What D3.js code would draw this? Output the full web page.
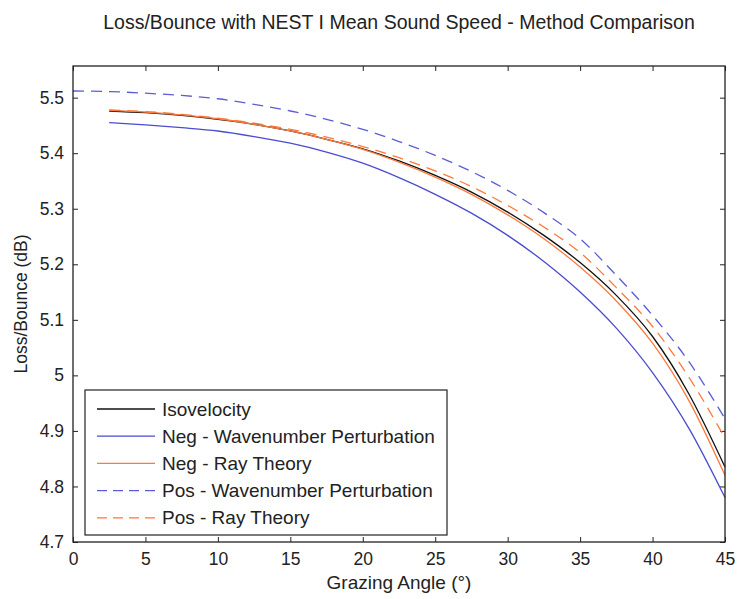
<!DOCTYPE html>
<html>
<head>
<meta charset="utf-8">
<script src="https://cdn.jsdelivr.net/npm/d3@7"></script>
<style>
  body { margin: 0; background: #fff; }
  text { font-family: "Liberation Sans", Arial, sans-serif; fill: #222; }
</style>
</head>
<body>
<svg id="chart"></svg>
<script>
const width = 737;
const height = 599;

// grazing angles (deg)
const angles = [2.5, 5, 7.5, 10, 12.5, 15, 17.5, 20, 22.5, 25, 27.5, 30, 32.5, 35, 37.5, 40, 42.5, 45];
const anglesPos = [0].concat(angles);

// loss per bounce (dB)
const isovelocity = [5.476, 5.473, 5.468, 5.461, 5.452, 5.440, 5.425, 5.408, 5.386, 5.360, 5.330, 5.294, 5.252, 5.203, 5.144, 5.070, 4.967, 4.835];
const negWavenumber = [5.455, 5.451, 5.446, 5.440, 5.430, 5.418, 5.402, 5.382, 5.356, 5.326, 5.292, 5.252, 5.205, 5.150, 5.085, 5.005, 4.905, 4.780];
const negRay = [5.477, 5.474, 5.469, 5.462, 5.452, 5.440, 5.425, 5.407, 5.384, 5.357, 5.326, 5.289, 5.246, 5.195, 5.134, 5.058, 4.955, 4.820];
const posWavenumber = [5.512, 5.511, 5.508, 5.504, 5.498, 5.488, 5.476, 5.461, 5.443, 5.421, 5.396, 5.367, 5.333, 5.293, 5.246, 5.180, 5.108, 5.025, 4.922];
const posRay = [5.478, 5.475, 5.470, 5.463, 5.454, 5.443, 5.429, 5.412, 5.392, 5.368, 5.340, 5.306, 5.267, 5.221, 5.158, 5.088, 4.997, 4.887];

const xTicks = [0, 5, 10, 15, 20, 25, 30, 35, 40, 45];
const yTicks = [4.7, 4.8, 4.9, 5, 5.1, 5.2, 5.3, 5.4, 5.5];

const series = [
  { name: "Isovelocity", x: angles, y: isovelocity, color: "#111", dash: null },
  { name: "Neg - Wavenumber Perturbation", x: angles, y: negWavenumber, color: "#4b4bd0", dash: null },
  { name: "Neg - Ray Theory", x: angles, y: negRay, color: "#ff7a3c", dash: null },
  { name: "Pos - Wavenumber Perturbation", x: anglesPos, y: posWavenumber, color: "#5c5cd8", dash: "11,7" },
  { name: "Pos - Ray Theory", x: angles, y: posRay, color: "#ff7a3c", dash: "11,7" }
];

const margin = { top: 66, right: 12, bottom: 57, left: 73 };
const innerW = width - margin.left - margin.right;
const innerH = height - margin.top - margin.bottom;

const svg = d3.select("#chart")
  .attr("width", width)
  .attr("height", height);

const g = svg.append("g")
  .attr("transform", `translate(${margin.left},${margin.top})`);

const x = d3.scaleLinear().domain([0, 45]).range([0, innerW]);
const y = d3.scaleLinear().domain([4.7, 5.557]).range([innerH, 0]);

// axes, ticks pointing inward like matlab
const tickLen = 5;
const styleAxis = (sel) => {
  sel.select(".domain").remove();
  sel.selectAll("line").attr("stroke", "#222");
  sel.selectAll("text").attr("font-size", "17.5px").attr("fill", "#222");
};

g.append("g")
  .attr("transform", `translate(0,${innerH})`)
  .call(d3.axisBottom(x).tickValues(xTicks).tickSize(-tickLen).tickPadding(11).tickFormat(d3.format("d")))
  .call(styleAxis);

g.append("g")
  .call(d3.axisTop(x).tickValues(xTicks).tickSize(-tickLen).tickFormat(""))
  .call(styleAxis);

g.append("g")
  .call(d3.axisLeft(y).tickValues(yTicks).tickSize(-tickLen).tickPadding(9).tickFormat((d) => d === 5 ? "5" : d3.format(".1f")(d)))
  .call(styleAxis);

g.append("g")
  .attr("transform", `translate(${innerW},0)`)
  .call(d3.axisRight(y).tickValues(yTicks).tickSize(-tickLen).tickFormat(""))
  .call(styleAxis);

// lines
const line = d3.line()
  .x((d) => x(d[0]))
  .y((d) => y(d[1]))
  .curve(d3.curveMonotoneX);

const drawOrder = [3, 4, 1, 0, 2];
drawOrder.forEach((i) => {
  const s = series[i];
  g.append("path")
    .datum(s.x.map((a, j) => [a, s.y[j]]))
    .attr("fill", "none")
    .attr("stroke", s.color)
    .attr("stroke-width", 1.3)
    .attr("stroke-dasharray", s.dash)
    .attr("d", line);
});

// frame
g.append("rect")
  .attr("width", innerW)
  .attr("height", innerH)
  .attr("fill", "none")
  .attr("stroke", "#222")
  .attr("stroke-width", 1.3);

// legend
const legend = svg.append("g").attr("transform", "translate(85,390)");
legend.append("rect")
  .attr("width", 362)
  .attr("height", 145)
  .attr("fill", "#fff")
  .attr("stroke", "#222")
  .attr("stroke-width", 1.2);

const items = legend.selectAll(".item")
  .data(series)
  .enter()
  .append("g")
  .attr("class", "item")
  .attr("transform", (d, i) => `translate(0,${19 + i * 27.2})`);

items.append("line")
  .attr("x1", 12)
  .attr("x2", 70)
  .attr("stroke", (d) => d.color)
  .attr("stroke-width", 1.3)
  .attr("stroke-dasharray", (d) => d.dash ? "10,6" : null);

items.append("text")
  .attr("x", 77)
  .attr("dy", "0.35em")
  .attr("font-size", "19px")
  .text((d) => d.name);

// title and axis labels
svg.append("text")
  .attr("x", margin.left + innerW / 2)
  .attr("y", 29)
  .attr("text-anchor", "middle")
  .attr("font-size", "19.5px")
  .text("Loss/Bounce with NEST I Mean Sound Speed - Method Comparison");

svg.append("text")
  .attr("x", margin.left + innerW / 2)
  .attr("y", 589)
  .attr("text-anchor", "middle")
  .attr("font-size", "19px")
  .text("Grazing Angle (°)");

svg.append("text")
  .attr("transform", `translate(27,${margin.top + innerH / 2}) rotate(-90)`)
  .attr("text-anchor", "middle")
  .attr("font-size", "17.5px")
  .text("Loss/Bounce (dB)");
</script>
</body>
</html>
